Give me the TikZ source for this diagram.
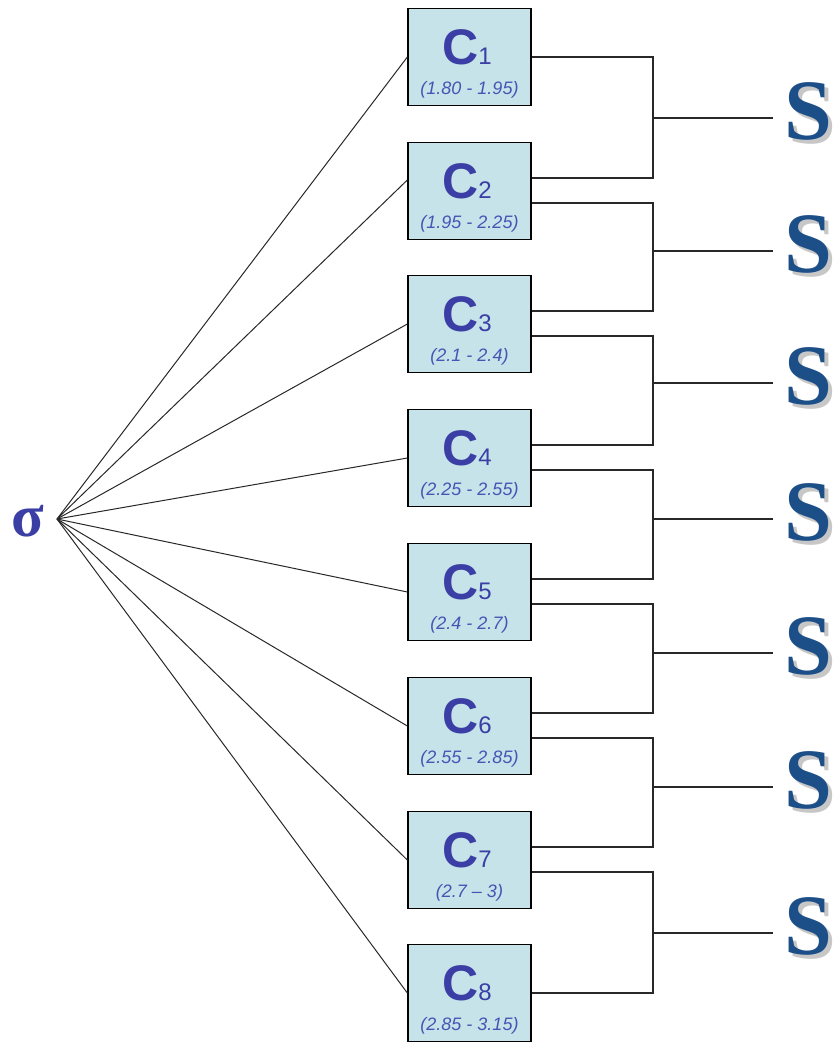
\documentclass[tikz,border=0pt]{standalone}
\usepackage{fontspec}
\newfontfamily\sansf{Liberation Sans}
\newfontfamily\seriff{Liberation Serif}
\definecolor{boxfill}{RGB}{197,227,233}
\definecolor{cblue}{RGB}{58,62,165}
\definecolor{rblue}{RGB}{70,85,180}
\definecolor{sblue}{RGB}{28,78,135}
\definecolor{wire}{RGB}{40,40,40}
% a bold S with a soft grey drop shadow behind it
\newcommand{\shadowS}{\rlap{\hspace{4pt}\raisebox{-4pt}{\textcolor{black!22}{S}}}S}
\begin{document}
\begin{tikzpicture}[x=1pt,y=-1pt,
  cbox/.style={draw=black,fill=boxfill,line width=1.3pt,minimum width=123pt,minimum height=97pt,inner sep=0pt},
  cname/.style={text=cblue,inner sep=0pt,font=\sansf\bfseries\fontsize{50}{50}\selectfont},
  crange/.style={text=rblue,inner sep=0pt,font=\sansf\itshape\fontsize{18}{18}\selectfont},
  sletter/.style={text=sblue,anchor=west,inner xsep=11pt,inner ysep=0pt,font=\seriff\bfseries\fontsize{86}{86}\selectfont},
  ray/.style={draw=wire,line width=1pt},
  wirestyle/.style={draw=wire,line width=1.2pt}]
\useasboundingbox (0,0) rectangle (834,1042);

% class boxes with their names and ranges
\foreach \k/\y/\r in {1/57/{(1.80 - 1.95)},2/191/{(1.95 - 2.25)},3/324/{(2.1 - 2.4)},
  4/458/{(2.25 - 2.55)},5/592/{(2.4 - 2.7)},6/726/{(2.55 - 2.85)},
  7/860/{(2.7 – 3)},8/993/{(2.85 - 3.15)}}{
  \node[cbox] (C\k) at (469.5,\y) {};
  \node[cname] (C\k-n) at (467,\y-10) {C{\mdseries\fontsize{24}{24}\selectfont\k}};
  \node[crange] (C\k-r) at (469.5,\y+33) {\r};
}

% sigma and its fan of rays
\node[text=cblue,font=\seriff\bfseries\fontsize{60}{60}\selectfont,inner sep=0pt] (sig) at (28,521) {σ};
\coordinate (O) at (57,519);
\foreach \k in {1,3,4,5,6,7,8}{
  \draw[ray] (O) -- (C\k.west);
}
\draw[ray] (O) -- ([yshift=11pt]C2.west);

% brackets joining neighbouring boxes, each leading to an S
\foreach \k/\n/\y/\a/\b in {1/2/118/0/13,2/3/251/-12/13,3/4/383/-12/13,
  4/5/519/-12/13,5/6/653/-12/13,6/7/787/-12/13,7/8/933/-12/0}{
  \coordinate (J\k) at (653,\y);
  \node[sletter] (S\k) at (773,\y-5) {\shadowS};
  \draw[wirestyle] ([yshift=\a pt]C\k.east) -| (J\k) |- ([yshift=\b pt]C\n.east);
  \draw[wirestyle] (J\k) -- (J\k -| S\k.west);
}
\end{tikzpicture}
\end{document}
